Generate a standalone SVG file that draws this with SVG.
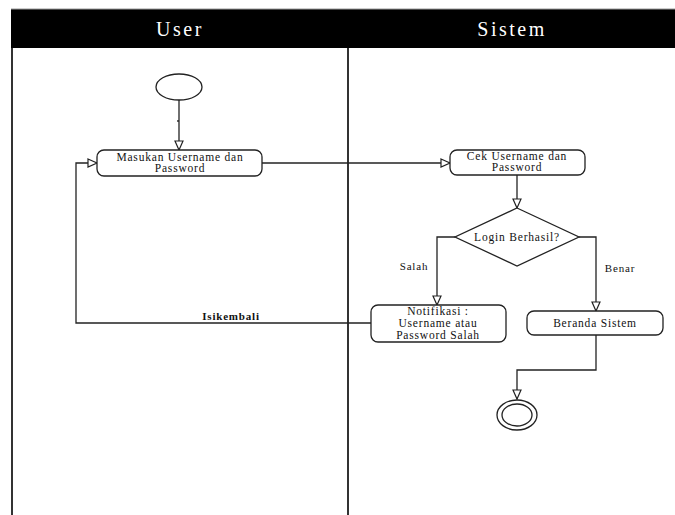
<svg xmlns="http://www.w3.org/2000/svg" width="675" height="515" viewBox="0 0 675 515">
<defs>
<style>
.lane{stroke:#333;stroke-width:2;fill:none}
.node{fill:#fff;stroke:#222;stroke-width:1.3}
text{font-family:"Liberation Serif",serif}
.t{font-size:11.5px;fill:#111;text-anchor:middle;letter-spacing:0.8px}
.h{font-size:20px;fill:#fff;text-anchor:middle;letter-spacing:2.5px}
.c{fill:none;stroke:#222;stroke-width:1.3}
.lbl{font-size:11px;fill:#111;text-anchor:middle;letter-spacing:0.8px}
</style>
<marker id="arr" markerWidth="12" markerHeight="10" refX="10" refY="5" orient="auto" markerUnits="userSpaceOnUse">
<path d="M1,1 L10,5 L1,9 Z" fill="#fff" stroke="#222" stroke-width="1.2"/>
</marker>
</defs>
<rect x="0" y="0" width="675" height="515" fill="#fff"/>
<g id="lanes">
<rect x="11" y="9" width="664" height="39" fill="#000"/>
<line x1="11" y1="9" x2="675" y2="9" stroke="#999" stroke-width="1"/>
<line class="lane" x1="12" y1="48" x2="12" y2="515"/>
<line class="lane" x1="348" y1="48" x2="348" y2="515"/>
<text class="h" x="180" y="36">User</text>
<text class="h" x="512" y="36">Sistem</text>
</g>
<g id="connectors">
<path class="c" d="M179,100 L179,150" marker-end="url(#arr)"/>
<circle cx="178" cy="121" r="0.9" fill="#222"/>
<path class="c" d="M262,163 L450,163" marker-end="url(#arr)"/>
<path class="c" d="M517,175 L517,208" marker-end="url(#arr)"/>
<path class="c" d="M455,237 L437,237 L437,305" marker-end="url(#arr)"/>
<path class="c" d="M579,237 L596,237 L596,311" marker-end="url(#arr)"/>
<path class="c" d="M596,335 L596,370 L517,370 L517,399" marker-end="url(#arr)"/>
<path class="c" d="M371,323 L76,323 L76,163 L97,163" marker-end="url(#arr)"/>
<text class="lbl" x="414" y="270">Salah</text>
<text class="lbl" x="620" y="272">Benar</text>
<text class="lbl" x="231" y="320" font-weight="bold">Isikembali</text>
</g>
<g id="start">
<ellipse class="node" cx="179" cy="87" rx="23" ry="13"/>
</g>
<g id="masukan">
<rect class="node" x="97" y="150" width="165" height="26" rx="7"/>
<text class="t" x="180" y="161">Masukan Username dan</text>
<text class="t" x="180" y="172">Password</text>
</g>
<g id="cek">
<rect class="node" x="450" y="150" width="135" height="25" rx="7"/>
<text class="t" x="517" y="160">Cek Username dan</text>
<text class="t" x="517" y="171">Password</text>
</g>
<g id="decision">
<polygon class="node" points="517,208 579,237 517,266 455,237"/>
<text class="t" x="517" y="241">Login Berhasil?</text>
</g>
<g id="notifikasi">
<rect class="node" x="371" y="305" width="135" height="37" rx="7"/>
<text class="t" x="438" y="315">Notifikasi :</text>
<text class="t" x="438" y="327">Username atau</text>
<text class="t" x="438" y="339">Password Salah</text>
</g>
<g id="beranda">
<rect class="node" x="527" y="311" width="136" height="24" rx="7"/>
<text class="t" x="595" y="327">Beranda Sistem</text>
</g>
<g id="end">
<ellipse class="node" cx="517" cy="415" rx="20" ry="15"/>
<ellipse class="c" cx="517" cy="415" rx="15" ry="11"/>
</g>
</svg>
